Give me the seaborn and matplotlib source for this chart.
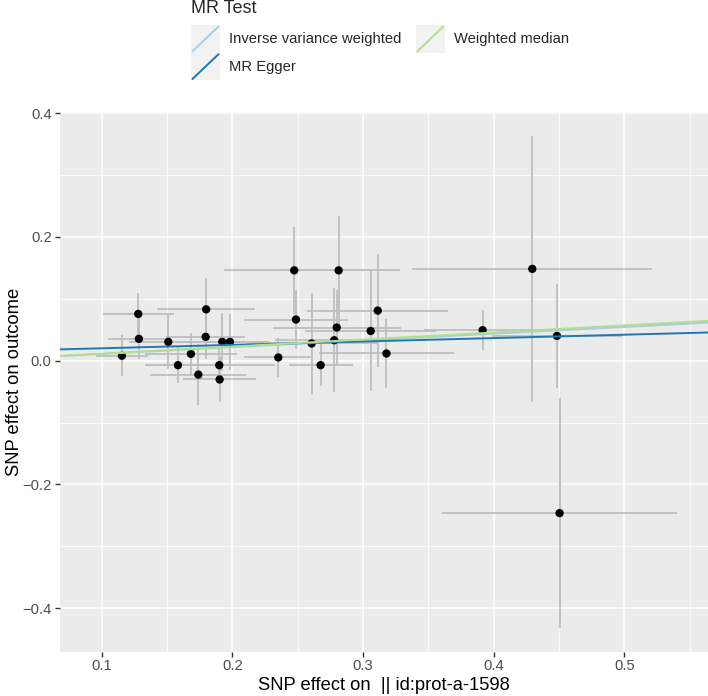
import numpy as np
import pandas as pd
import matplotlib
matplotlib.use("Agg")
import matplotlib.pyplot as plt
import seaborn as sns
from matplotlib.lines import Line2D
from matplotlib.patches import Rectangle
from matplotlib.legend_handler import HandlerBase
from matplotlib.ticker import MultipleLocator, AutoMinorLocator

# Efectos SNP (exposicion / resultado) y semi-anchos de las barras de error
beta_exp = [0.1155, 0.128, 0.1285, 0.151, 0.1584, 0.1683, 0.174, 0.180, 0.1796, 0.190,
            0.1903, 0.1923, 0.1982, 0.2352, 0.2474, 0.2487, 0.2607, 0.2676, 0.278, 0.2799,
            0.2814, 0.3059, 0.3113, 0.318, 0.3916, 0.4296, 0.4485, 0.4505]
beta_out = [0.008, 0.0756, 0.0353, 0.0304, -0.0073, 0.011, -0.0225, 0.083, 0.0385, -0.0073,
            -0.0304, 0.0304, 0.0304, 0.0052, 0.146, 0.0665, 0.0278, -0.0073, 0.033, 0.0536,
            0.146, 0.048, 0.081, 0.0116, 0.0493, 0.1484, 0.040, -0.2465]
se_exp = [0.02, 0.027, 0.024, 0.03, 0.025, 0.035, 0.0367, 0.0375, 0.03, 0.043,
          0.028, 0.035, 0.03, 0.026, 0.054, 0.04, 0.05, 0.0244, 0.045, 0.049,
          0.047, 0.05, 0.054, 0.052, 0.045, 0.092, 0.05, 0.090]
se_out = [0.033, 0.034, 0.033, 0.0437, 0.0295, 0.0334, 0.05, 0.05, 0.035, 0.03,
          0.037, 0.0465, 0.045, 0.031, 0.07, 0.048, 0.082, 0.034, 0.084, 0.06,
          0.0875, 0.0965, 0.092, 0.055, 0.032, 0.2155, 0.084, 0.186]

# Rectas de cada metodo MR
metodos = ["Inverse variance weighted", "MR Egger", "Weighted median"]
interceptos = [0.0, 0.0145, 0.0]
pendientes = [0.109, 0.055, 0.114]
colores = ["#A6CEE3", "#1F78B4", "#B2DF8A"]

df = pd.DataFrame({"x": beta_exp, "y": beta_out, "sx": se_exp, "sy": se_out})

sns.set_theme(style="darkgrid", rc={"axes.facecolor": "#EBEBEB", "grid.color": "white"})
plt.rcParams["font.family"] = ["Liberation Sans", "DejaVu Sans"]


class KeyHandler(HandlerBase):
    # llave tipo ggplot: fondo gris con linea diagonal
    def create_artists(self, legend, orig_handle, xdescent, ydescent, width, height, fontsize, trans):
        x0, y0 = -xdescent, -ydescent
        bg = Rectangle((x0, y0), width, height, facecolor="#F2F2F2", edgecolor="none", transform=trans)
        ln = Line2D([x0 + 1, x0 + width - 1], [y0 + 1, y0 + height - 1],
                    color=orig_handle.get_color(), lw=1.4, transform=trans)
        return [bg, ln]


W, H = 708, 696
fig = plt.figure(figsize=(W / 100, H / 100), dpi=100)
ax = fig.add_axes([60 / W, (H - 652) / H, 648 / W, 540 / H])

ax.errorbar(df["x"], df["y"], yerr=df["sy"], fmt="none", ecolor="#BEBEBE", elinewidth=1.3, capsize=0, zorder=2)
ax.errorbar(df["x"], df["y"], xerr=df["sx"], fmt="none", ecolor="#BEBEBE", elinewidth=1.3, capsize=0, zorder=2)
sns.scatterplot(data=df, x="x", y="y", color="black", s=36, edgecolor="none", ax=ax, zorder=3)

for m, a, b, c in zip(metodos, interceptos, pendientes, colores):
    ax.axline((0, a), slope=b, color=c, lw=1.4, zorder=4)

ax.set_xlim(0.0681, 0.5641)
ax.set_ylim(-0.4711, 0.4021)
ax.xaxis.set_major_locator(MultipleLocator(0.1))
ax.yaxis.set_major_locator(MultipleLocator(0.2))
ax.xaxis.set_minor_locator(AutoMinorLocator(2))
ax.yaxis.set_minor_locator(AutoMinorLocator(2))
ax.grid(which="major", color="white", lw=1.1)
ax.grid(which="minor", color="white", lw=0.55)
for s in ax.spines.values():
    s.set_visible(False)
ax.tick_params(which="major", length=3.3, width=1.0, color="#333333", labelsize=10.6,
               labelcolor="#4D4D4D", bottom=True, left=True)
ax.tick_params(axis="x", pad=2)
ax.tick_params(axis="y", pad=2.7)
ax.tick_params(which="minor", length=0)

ax.set_xlabel("SNP effect on  || id:prot-a-1598", fontsize=13.2, color="black")
ax.set_ylabel("SNP effect on outcome", fontsize=13.2, color="black")
ax.xaxis.set_label_coords(0.5, -0.0454)
ax.yaxis.set_label_coords(-0.057, 0.5)

# Leyenda arriba, dos columnas
fig.text(191 / W, 1 - 13.4 / H, "MR Test", fontsize=13, va="baseline", ha="left")
handles = [Line2D([], [], color=c) for c in colores]
fs = 10.6
em = fs * 100 / 72
fig.legend(handles, metodos, handler_map={Line2D: KeyHandler()}, ncol=2, frameon=False,
           loc="upper left", bbox_to_anchor=(191 / W, 1 - 25 / H), borderpad=0, borderaxespad=0,
           fontsize=fs, handlelength=29 / em, handleheight=2.52,
           handletextpad=0.6, labelspacing=0, columnspacing=1.0)

fig.savefig("out.png", dpi=100)
